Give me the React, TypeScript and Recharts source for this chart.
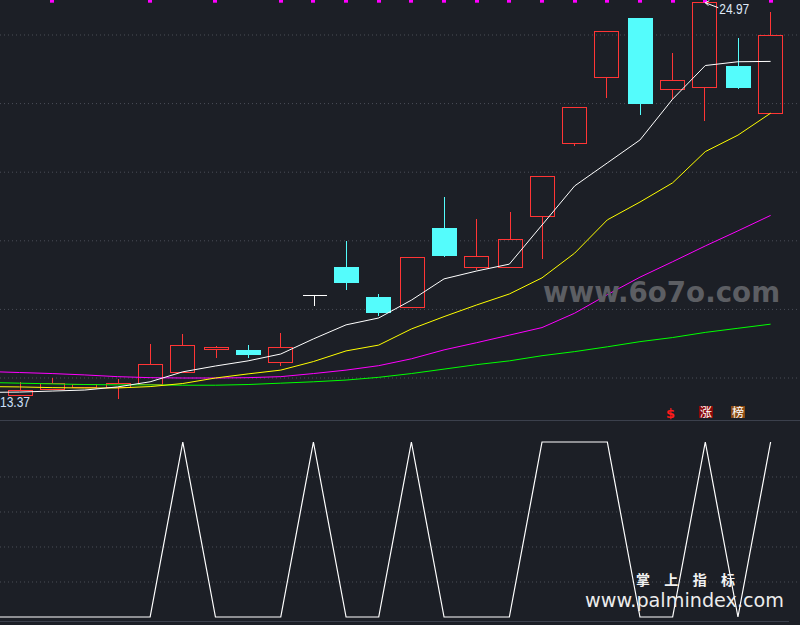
import React from "react";
import {
  ComposedChart,
  Bar,
  Line,
  Scatter,
  XAxis,
  YAxis,
  CartesianGrid,
  ReferenceDot,
} from "recharts";

// trading days shown (0 = the day just off the left edge)
const DAYS = [1, 2, 3, 4, 5, 6, 7, 8, 9, 10, 11, 12, 13, 14, 15, 16, 17, 18, 19, 20, 21, 22, 23, 24];
const OPEN = [13.5, 13.68, 13.74, 13.74, 13.83, 14.17, 14.85, 14.82, 14.47, 16.42, 17.24, 16.36, 16.07, 18.37, 17.24, 17.24, 18.72, 20.85, 22.78, 24.5, 22.43, 22.48, 23.1, 21.73];
const HIGH = [13.91, 14.03, 13.85, 14.0, 15.02, 15.31, 14.96, 14.99, 15.34, 16.42, 18.02, 16.48, 17.53, 19.31, 18.66, 18.87, 19.89, 21.9, 24.12, 24.52, 23.5, 24.97, 23.94, 24.7];
const LOW = [13.5, 13.68, 13.74, 13.42, 13.83, 14.17, 14.61, 14.61, 14.38, 16.13, 16.59, 15.84, 16.07, 17.56, 17.18, 17.24, 17.5, 20.79, 22.19, 21.7, 22.16, 21.52, 22.45, 21.73];
const CLOSE = [13.65, 13.85, 13.83, 13.85, 14.41, 14.96, 14.9, 14.7, 14.9, 16.42, 16.8, 15.92, 17.53, 17.59, 17.56, 18.05, 19.89, 21.9, 24.12, 22.02, 22.69, 24.97, 22.48, 24.0];

// moving averages, day 0..24
const MA_DAYS = [0, ...DAYS];
const MA5 = [13.58, 13.59, 13.62, 13.65, 13.74, 13.89, 14.18, 14.35, 14.5, 14.7, 15.14, 15.55, 15.75, 16.27, 16.89, 17.12, 17.32, 18.46, 19.6, 20.27, 20.94, 22.13, 23.11, 23.22, 23.23];
const MA10 = [13.75, 13.74, 13.72, 13.71, 13.71, 13.75, 13.84, 14.0, 14.12, 14.23, 14.48, 14.79, 14.96, 15.43, 15.79, 16.13, 16.45, 16.92, 17.64, 18.61, 19.13, 19.69, 20.6, 21.08, 21.72];
const MA20 = [14.19, 14.16, 14.13, 14.09, 14.04, 14.01, 14.0, 14.0, 14.01, 14.04, 14.13, 14.23, 14.36, 14.56, 14.82, 15.03, 15.25, 15.47, 15.89, 16.43, 16.94, 17.39, 17.85, 18.29, 18.74];
const MA60 = [13.87, 13.85, 13.83, 13.81, 13.8, 13.8, 13.79, 13.79, 13.81, 13.85, 13.89, 13.94, 14.02, 14.13, 14.26, 14.39, 14.5, 14.65, 14.77, 14.91, 15.06, 15.18, 15.33, 15.45, 15.57];

// lower indicator, day 0..24
const OSC = [0, 0, 0, 0, 0, 0, 100, 0, 0, 0, 100, 0, 0, 100, 0, 0, 0, 100, 100, 100, 0, 0, 100, 0, 100];

// small signal marks along the top edge
const SIGNAL_DAYS = [2, 5, 7, 9, 10, 11, 12, 13, 14, 15, 16, 17, 18, 19, 20, 21, 22, 24];

// badges under the last candles
const BADGE_DAYS = [21, 22, 23];
const BADGE_TEXT = ["$", "涨", "榜"];

const PRICE_GRID = [14, 16, 18, 20, 22, 24];
const OSC_GRID = [20, 40, 60, 80];
const MAX_PRICE = 24.97;
const MIN_PRICE = 13.37;

const X_DOMAIN = [0.403, 24.9];
const PRICE_DOMAIN = [12.776, 25.02];
const OSC_DOMAIN = [-2.286, 112];

const BG = "#1c1f26";
const RED = "#ff3535";
const CYAN = "#54fcfc";
const GRID = "#4a4e57";
const FRAME = "#3b404c";

const candles = DAYS.map((d, k) => ({
  i: d,
  open: OPEN[k],
  high: HIGH[k],
  low: LOW[k],
  close: CLOSE[k],
}));

const maData = MA_DAYS.map((d, k) => ({
  i: d,
  ma5: MA5[k],
  ma10: MA10[k],
  ma20: MA20[k],
  ma60: MA60[k],
}));

const oscData = MA_DAYS.map((d, k) => ({ i: d, osc: OSC[k] }));
const signalData = SIGNAL_DAYS.map((d) => ({ i: d, y: 25.0 }));
const badgeData = BADGE_DAYS.map((d, k) => ({ i: d, y: 13.0, text: BADGE_TEXT[k] }));

const BADGE_BG: Record<string, string | null> = {
  "$": null,
  "涨": "#8a0a0a",
  "榜": "#8a4a12",
};

function Candle(props: any) {
  const { x, y, width, height, payload } = props;
  if (!payload || x == null) return null;
  const { open, close, high, low } = payload;
  const top = Math.min(y, y + height);
  const h = Math.abs(height);
  const range = high - low;
  const py = (v: number) => (range === 0 ? top : top + ((high - v) / range) * h);

  // snap to even pixel columns so thin coloured strokes stay crisp
  const left = 2 * Math.round(x / 2) + 0.5;
  const w = 24;
  const cx = left + 12;
  const boxTop = Math.round(py(Math.max(open, close))) + 0.5;
  const boxBot = Math.round(py(Math.min(open, close))) + 0.5;
  const hiY = Math.round(py(high)) + 0.5;
  const loY = Math.round(py(low)) + 0.5;

  if (open === close) {
    return (
      <g shapeRendering="crispEdges">
        <line x1={left} x2={left + w} y1={boxTop} y2={boxTop} stroke="#ffffff" />
        {hiY < boxTop && <line x1={cx} x2={cx} y1={hiY} y2={boxTop} stroke="#ffffff" />}
        {loY > boxTop && <line x1={cx} x2={cx} y1={boxTop} y2={loY} stroke="#ffffff" />}
      </g>
    );
  }

  const up = close > open;
  const color = up ? RED : CYAN;
  return (
    <g shapeRendering="crispEdges">
      {hiY < boxTop && <line x1={cx} x2={cx} y1={hiY} y2={boxTop} stroke={color} strokeWidth={1} />}
      {loY > boxBot && <line x1={cx} x2={cx} y1={boxBot} y2={loY} stroke={color} strokeWidth={1} />}
      <rect
        x={left}
        y={boxTop}
        width={w}
        height={Math.max(boxBot - boxTop, 1)}
        fill={up ? "none" : color}
        stroke={color}
        strokeWidth={1}
      />
    </g>
  );
}

function SignalMark(props: any) {
  const { cx, cy } = props;
  if (cx == null) return null;
  return <rect x={Math.round(cx) - 2} y={cy - 1} width={4} height={3} fill="#ff00ff" />;
}

function Badge(props: any) {
  const { cx, cy, payload } = props;
  if (cx == null) return null;
  const bg = BADGE_BG[payload.text];
  if (!bg) {
    return (
      <text x={cx - 2} y={cy + 6} textAnchor="middle" fill="#ff1a1a" fontSize={13} fontWeight="bold" fontFamily="DejaVu Sans">
        {payload.text}
      </text>
    );
  }
  return (
    <g>
      <rect x={2 * Math.round(cx / 2) - 7} y={Math.round(cy) - 6} width={14} height={12} fill={bg} />
      <text x={2 * Math.round(cx / 2)} y={Math.round(cy) + 4.5} textAnchor="middle" fill="#ffffff" fontSize={12} fontFamily="Noto Sans CJK SC">
        {payload.text}
      </text>
    </g>
  );
}

function HighLabel(props: any) {
  const { cx, cy } = props;
  if (cx == null) return null;
  return (
    <g>
      <polyline points={`${cx + 4},${cy - 1} ${cx},${cy + 1} ${cx + 3},${cy + 4}`} fill="none" stroke="#ffffff" strokeWidth={1} />
      <line x1={cx} y1={cy + 1} x2={cx + 13} y2={cy + 6} stroke="#ffffff" strokeWidth={1} />
      <text x={cx + 14} y={cy + 12} fill="#dfe8f6" fontSize={14} fontFamily="Liberation Sans" textLength={30} lengthAdjust="spacingAndGlyphs">
        {MAX_PRICE.toFixed(2)}
      </text>
    </g>
  );
}

function LowLabel(props: any) {
  const { cx, cy } = props;
  if (cx == null) return null;
  return (
    <text x={cx} y={cy + 7} fill="#cfe0fa" fontSize={14} fontFamily="Liberation Sans" textLength={30} lengthAdjust="spacingAndGlyphs">
      {MIN_PRICE.toFixed(2)}
    </text>
  );
}

export default function App() {
  return (
    <div style={{ position: "absolute", left: 0, top: 0, width: 800, height: 625, background: BG, overflow: "hidden" }}>
      {/* Price panel */}
      <ComposedChart width={800} height={420} data={candles} margin={{ top: 0, right: 0, bottom: 0, left: 0 }}>
        <CartesianGrid horizontal vertical={false} horizontalValues={PRICE_GRID} stroke={GRID} strokeDasharray="1 3" />
        <XAxis dataKey="i" type="number" domain={X_DOMAIN} allowDataOverflow hide ticks={DAYS} />
        <YAxis type="number" domain={PRICE_DOMAIN} allowDataOverflow hide ticks={PRICE_GRID} />
        <Bar dataKey={(d: any) => [d.low, d.high]} barSize={25} shape={<Candle />} isAnimationActive={false} />
        <Line data={maData} dataKey="ma60" stroke="#00ff00" strokeWidth={1} dot={false} isAnimationActive={false} />
        <Line data={maData} dataKey="ma20" stroke="#ff00ff" strokeWidth={1} dot={false} isAnimationActive={false} />
        <Line data={maData} dataKey="ma10" stroke="#ffff00" strokeWidth={1} dot={false} isAnimationActive={false} />
        <Line data={maData} dataKey="ma5" stroke="#ffffff" strokeWidth={1} dot={false} isAnimationActive={false} />
        <Scatter data={signalData} dataKey="y" shape={<SignalMark />} isAnimationActive={false} />
        <Scatter data={badgeData} dataKey="y" shape={<Badge />} isAnimationActive={false} />
        <ReferenceDot x={22} y={MAX_PRICE} r={0} shape={<HighLabel />} ifOverflow="visible" />
        <ReferenceDot x={X_DOMAIN[0]} y={MIN_PRICE} r={0} shape={<LowLabel />} ifOverflow="visible" />
      </ComposedChart>

      <div style={{ position: "absolute", left: 0, top: 420, width: 800, height: 1, background: FRAME }} />

      {/* Indicator panel */}
      <div style={{ position: "absolute", left: 0, top: 421 }}>
        <ComposedChart width={800} height={200} data={oscData} margin={{ top: 0, right: 0, bottom: 0, left: 0 }}>
          <CartesianGrid horizontal vertical={false} horizontalValues={OSC_GRID} stroke={GRID} strokeDasharray="1 3" />
          <XAxis dataKey="i" type="number" domain={X_DOMAIN} allowDataOverflow hide />
          <YAxis type="number" domain={OSC_DOMAIN} allowDataOverflow hide />
          <Line dataKey="osc" stroke="#ffffff" strokeWidth={1.2} dot={false} isAnimationActive={false} />
        </ComposedChart>
      </div>

      <div style={{ position: "absolute", left: 0, top: 621, width: 789, height: 1, background: FRAME }} />

      {/* watermarks */}
      <svg width={800} height={625} style={{ position: "absolute", left: 0, top: 0, pointerEvents: "none" }}>
        <text x={543} y={302} fill="#5c5e63" fontSize={28} fontWeight="bold" fontFamily="DejaVu Sans" textLength={237} lengthAdjust="spacingAndGlyphs">
          www.6o7o.com
        </text>
        <text x={636} y={585} fill="#f2f2f2" fontSize={14} fontWeight="bold" fontFamily="Noto Sans CJK SC" textLength={99} lengthAdjust="spacing">
          掌上指标
        </text>
        <text x={585} y={607} fill="#ececec" fontSize={19} fontFamily="DejaVu Sans" textLength={199} lengthAdjust="spacingAndGlyphs">
          www.palmindex.com
        </text>
      </svg>
    </div>
  );
}
